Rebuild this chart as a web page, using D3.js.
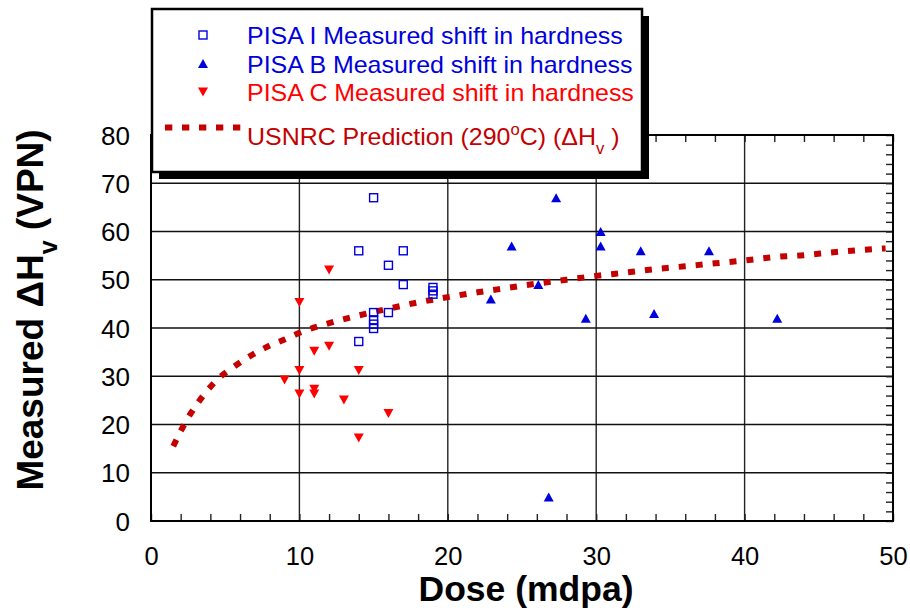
<!DOCTYPE html>
<html lang="en">
<head>
    <meta charset="UTF-8">
    <title>Hardness shift vs dose</title>
    <style>
        body {
            margin: 0;
            background: #fff;
        }
        svg {
            display: block;
            font-family: 'Liberation Sans', Arial, sans-serif;
        }
    </style>
</head>
<body>
    <svg id="chart" width="910" height="608"></svg>

    <script src="https://d3js.org/d3.v7.min.js"></script>
    <script>
        // PISA I - open squares
        const pisaIDose = [15, 14, 17, 16, 17, 19, 19, 19, 15, 16, 15, 15, 15, 14];
        const pisaIHv   = [67, 56, 56, 53, 49, 48.4, 47.7, 47, 43.2, 43.2, 41.7, 40.8, 39.9, 37.2];

        // PISA B - filled up triangles
        const pisaBDose = [27.3, 30.3, 24.3, 30.3, 33, 26.1, 22.9, 29.3, 33.9, 37.6, 42.2, 26.8];
        const pisaBHv   = [67, 60, 57, 57, 56, 49, 46, 42, 43, 56, 42, 5];

        // PISA C - filled down triangles
        const pisaCDose = [12, 10, 11, 12, 10, 14, 9, 10, 11, 11, 13, 16, 14];
        const pisaCHv   = [52, 45.3, 35.2, 36.2, 31.2, 31.2, 29.2, 26.3, 27.3, 26.3, 25.1, 22.3, 17.2];

        // USNRC prediction curve
        const predDose = [1.5, 2, 2.7, 3.5, 4.5, 5.6, 6.8, 7.9, 9, 10, 12, 14, 16, 18, 20,
                          22, 24, 26, 28, 30, 32, 34, 36, 38, 40, 42, 44, 46, 48, 49.5];
        const predHv   = [15.5, 18.6, 22.4, 25.9, 29.4, 32, 34.4, 36.2, 37.6, 39, 41, 42.6, 44, 45.3, 46.4,
                          47.4, 48.3, 49.2, 50, 50.8, 51.5, 52.2, 52.8, 53.4, 54, 54.7, 55.1, 55.7, 56.2, 56.5];

        const xTicks = [0, 10, 20, 30, 40, 50];
        const yTicks = [0, 10, 20, 30, 40, 50, 60, 70, 80];

        const svg = d3.select("#chart");

        const plotL = 151, plotR = 893, plotT = 135, plotB = 521;
        const x = d3.scaleLinear().domain([0, 50]).range([plotL, plotR]);
        const y = d3.scaleLinear().domain([0, 80]).range([plotB, plotT]);

        const blue = "#0000dd";
        const red = "#ff0000";
        const darkRed = "#c40000";

        // grid
        const grid = svg.append("g");
        grid.selectAll(".vg")
            .data(xTicks.slice(1, -1))
            .enter().append("line")
            .attr("x1", d => x(d)).attr("x2", d => x(d))
            .attr("y1", plotT).attr("y2", plotB)
            .attr("stroke", "#222").attr("stroke-width", 1.4);
        grid.selectAll(".hg")
            .data(yTicks.slice(1, -1))
            .enter().append("line")
            .attr("x1", plotL).attr("x2", plotR)
            .attr("y1", d => y(d)).attr("y2", d => y(d))
            .attr("stroke", "#111").attr("stroke-width", 1.4);

        // minor ticks on bottom, top and right sides
        const minorX = d3.range(0, 51, 2);
        const minorY = d3.range(0, 81, 2);
        svg.append("g")
            .attr("transform", `translate(0,${plotB})`)
            .call(d3.axisBottom(x).tickValues(minorX).tickSize(-7).tickFormat(""))
            .call(g => g.select(".domain").remove());
        svg.append("g")
            .attr("transform", `translate(0,${plotT})`)
            .call(d3.axisTop(x).tickValues(minorX).tickSize(-7).tickFormat(""))
            .call(g => g.select(".domain").remove());
        svg.append("g")
            .attr("transform", `translate(${plotR},0)`)
            .call(d3.axisRight(y).tickValues(minorY).tickSize(-7).tickFormat(""))
            .call(g => g.select(".domain").remove());
        svg.selectAll(".tick line").attr("stroke", "#222").attr("stroke-width", 1.4);

        // plot frame
        svg.append("rect")
            .attr("x", plotL).attr("y", plotT)
            .attr("width", plotR - plotL).attr("height", plotB - plotT)
            .attr("fill", "none").attr("stroke", "#000").attr("stroke-width", 2);

        // tick labels
        svg.append("g")
            .attr("transform", `translate(0,${plotB})`)
            .call(d3.axisBottom(x).tickValues(xTicks).tickSize(0).tickPadding(0))
            .call(g => g.select(".domain").remove())
            .call(g => g.selectAll("text")
                .attr("y", 43.5).attr("dy", null)
                .attr("font-size", 25.5).attr("font-family", "'Liberation Sans', Arial, sans-serif")
                .attr("fill", "#000"));
        svg.append("g")
            .attr("transform", `translate(${plotL},0)`)
            .call(d3.axisLeft(y).tickValues(yTicks).tickSize(0).tickPadding(0))
            .call(g => g.select(".domain").remove())
            .call(g => g.selectAll("text")
                .attr("x", -21).attr("dy", "0.35em")
                .attr("font-size", 26).attr("font-family", "'Liberation Sans', Arial, sans-serif")
                .attr("fill", "#000"));

        // axis titles
        svg.append("text")
            .attr("x", 526).attr("y", 601)
            .attr("text-anchor", "middle")
            .attr("font-size", 35.5).attr("font-weight", "bold")
            .text("Dose (mdpa)");

        const yTitle = svg.append("text")
            .attr("transform", "translate(43,310) rotate(-90)")
            .attr("text-anchor", "middle")
            .attr("font-size", 37).attr("font-weight", "bold");
        yTitle.append("tspan").text("Measured \u0394H");
        yTitle.append("tspan").attr("font-size", 25).attr("dy", 14).text("v");
        yTitle.append("tspan").attr("dy", -14).text(" (VPN)");

        // prediction curve
        const predPts = predDose.map((d, i) => [d, predHv[i]]);
        const line = d3.line().x(d => x(d[0])).y(d => y(d[1])).curve(d3.curveMonotoneX);
        svg.append("path")
            .attr("d", line(predPts))
            .attr("fill", "none")
            .attr("stroke", darkRed)
            .attr("stroke-width", 6)
            .attr("stroke-dasharray", "7 10");

        // markers
        svg.append("g").selectAll("rect")
            .data(pisaIDose.map((d, i) => [d, pisaIHv[i]]))
            .enter().append("rect")
            .attr("x", d => x(d[0]) - 4).attr("y", d => y(d[1]) - 4)
            .attr("width", 8).attr("height", 8)
            .attr("fill", "none").attr("stroke", blue).attr("stroke-width", 1.4);

        svg.append("g").selectAll("path")
            .data(pisaBDose.map((d, i) => [d, pisaBHv[i]]))
            .enter().append("path")
            .attr("d", "M0,-4.5L5,4.5L-5,4.5Z")
            .attr("transform", d => `translate(${x(d[0])},${y(d[1])})`)
            .attr("fill", blue);

        svg.append("g").selectAll("path")
            .data(pisaCDose.map((d, i) => [d, pisaCHv[i]]))
            .enter().append("path")
            .attr("d", "M0,4.5L5,-4.5L-5,-4.5Z")
            .attr("transform", d => `translate(${x(d[0])},${y(d[1])})`)
            .attr("fill", red);

        // legend box with shadow
        const legend = svg.append("g");
        legend.append("rect")
            .attr("x", 159).attr("y", 16).attr("width", 490).attr("height", 163)
            .attr("fill", "#000");
        legend.append("rect")
            .attr("x", 152).attr("y", 9).attr("width", 490).attr("height", 163)
            .attr("fill", "#fff").attr("stroke", "#000").attr("stroke-width", 2.5);

        const entries = [
            { label: "PISA I Measured shift in hardness", color: blue, marker: "square", yPos: 44 },
            { label: "PISA B Measured shift in hardness", color: blue, marker: "up", yPos: 72.5 },
            { label: "PISA C Measured shift in hardness", color: red, marker: "down", yPos: 101 }
        ];
        entries.forEach(e => {
            const my = e.yPos - 9;
            if (e.marker === "square") {
                legend.append("rect")
                    .attr("x", 199).attr("y", my - 4).attr("width", 8).attr("height", 8)
                    .attr("fill", "none").attr("stroke", blue).attr("stroke-width", 1.4);
            } else if (e.marker === "up") {
                legend.append("path").attr("d", "M0,-4.5L5,4.5L-5,4.5Z")
                    .attr("transform", `translate(203,${my})`).attr("fill", blue);
            } else {
                legend.append("path").attr("d", "M0,4.5L5,-4.5L-5,-4.5Z")
                    .attr("transform", `translate(203,${my})`).attr("fill", red);
            }
            legend.append("text")
                .attr("transform", `translate(247,${e.yPos}) scale(1.04,1)`)
                .attr("font-size", 24).attr("fill", e.color)
                .text(e.label);
        });

        legend.append("line")
            .attr("x1", 165).attr("x2", 242).attr("y1", 127.5).attr("y2", 127.5)
            .attr("stroke", darkRed).attr("stroke-width", 6)
            .attr("stroke-dasharray", "7.3 9.7");

        const predLabel = legend.append("text")
            .attr("transform", "translate(247,145) scale(1.04,1)")
            .attr("font-size", 24).attr("fill", darkRed);
        predLabel.append("tspan").text("USNRC Prediction (290");
        predLabel.append("tspan").attr("font-size", 16).attr("dy", -10).text("o");
        predLabel.append("tspan").attr("dy", 10).text("C) (\u0394H");
        predLabel.append("tspan").attr("font-size", 16).attr("dy", 9).text("v");
        predLabel.append("tspan").attr("dy", -9).text(" )");
    </script>
</body>
</html>
